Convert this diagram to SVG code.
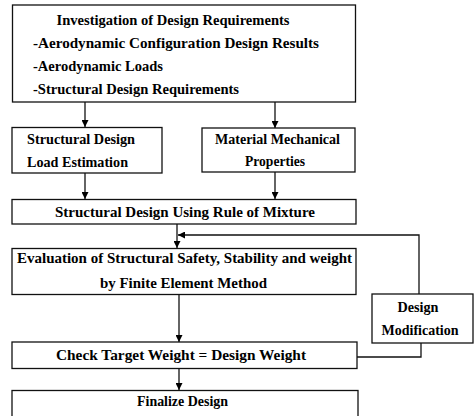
<svg xmlns="http://www.w3.org/2000/svg" width="474" height="416" viewBox="0 0 474 416">
<style>
.box{fill:#fff;stroke:#111;stroke-width:1.3}
.t{font-family:'Liberation Serif','DejaVu Serif',serif;font-weight:bold;font-size:14px;fill:#000}
.c{text-anchor:middle}
.ln{fill:none;stroke:#111;stroke-width:1.3}
</style>
<defs>
<marker id="ah" viewBox="0 0 10 10" refX="10" refY="5" markerWidth="7" markerHeight="7" markerUnits="userSpaceOnUse" orient="auto">
<path d="M0,0 L10,5 L0,10 z" fill="#000"/>
</marker>
</defs>
<rect width="474" height="416" fill="#fff"/>
<g id="connectors">
<line class="ln" x1="85" y1="102" x2="85" y2="127" marker-end="url(#ah)"/>
<line class="ln" x1="275" y1="102" x2="275" y2="128" marker-end="url(#ah)"/>
<line class="ln" x1="85" y1="173" x2="85" y2="199" marker-end="url(#ah)"/>
<line class="ln" x1="275" y1="172" x2="275" y2="199" marker-end="url(#ah)"/>
<line class="ln" x1="177" y1="224" x2="177" y2="248" marker-end="url(#ah)"/>
<polyline class="ln" points="419,294 419,235 178,235" marker-end="url(#ah)"/>
<line class="ln" x1="179" y1="294" x2="179" y2="342" marker-end="url(#ah)"/>
<polyline class="ln" points="421,343 421,357 357,357"/>
<line class="ln" x1="179" y1="368" x2="179" y2="390" marker-end="url(#ah)"/>
</g>
<g id="n1">
<rect class="box" x="12.5" y="5" width="343" height="97"/>
<text class="t c" x="173" y="25" textLength="233" lengthAdjust="spacingAndGlyphs">Investigation of Design Requirements</text>
<text class="t" x="33" y="48" textLength="286" lengthAdjust="spacingAndGlyphs">-Aerodynamic Configuration Design Results</text>
<text class="t" x="33" y="71" textLength="130" lengthAdjust="spacingAndGlyphs">-Aerodynamic Loads</text>
<text class="t" x="33" y="94" textLength="206" lengthAdjust="spacingAndGlyphs">-Structural Design Requirements</text>
</g>
<g id="n2">
<rect class="box" x="12" y="127.5" width="150" height="45.5"/>
<text class="t" x="27" y="144" textLength="108" lengthAdjust="spacingAndGlyphs">Structural Design</text>
<text class="t" x="27" y="167" textLength="101" lengthAdjust="spacingAndGlyphs">Load Estimation</text>
</g>
<g id="n3">
<rect class="box" x="202" y="128" width="153" height="44"/>
<text class="t c" x="277.5" y="144" textLength="125" lengthAdjust="spacingAndGlyphs">Material Mechanical</text>
<text class="t c" x="275" y="166" textLength="60" lengthAdjust="spacingAndGlyphs">Properties</text>
</g>
<g id="n4">
<rect class="box" x="12" y="199.5" width="344" height="24.5"/>
<text class="t c" x="185" y="217" textLength="260" lengthAdjust="spacingAndGlyphs">Structural Design Using Rule of Mixture</text>
</g>
<g id="n5">
<rect class="box" x="12" y="248.5" width="344" height="46"/>
<text class="t c" x="184.5" y="263" textLength="335" lengthAdjust="spacingAndGlyphs">Evaluation of Structural Safety, Stability and weight</text>
<text class="t c" x="183.5" y="288" textLength="167" lengthAdjust="spacingAndGlyphs">by Finite Element Method</text>
</g>
<g id="n6">
<rect class="box" x="372" y="294" width="101" height="49"/>
<text class="t c" x="418" y="312" textLength="41" lengthAdjust="spacingAndGlyphs">Design</text>
<text class="t c" x="420" y="335" textLength="77" lengthAdjust="spacingAndGlyphs">Modification</text>
</g>
<g id="n7">
<rect class="box" x="12" y="342" width="345" height="26.5"/>
<text class="t c" x="181" y="360" textLength="250" lengthAdjust="spacingAndGlyphs">Check Target Weight = Design Weight</text>
</g>
<g id="n8">
<rect class="box" x="12" y="390.5" width="346" height="30"/>
<text class="t c" x="182.5" y="406" textLength="91" lengthAdjust="spacingAndGlyphs">Finalize Design</text>
</g>
</svg>
